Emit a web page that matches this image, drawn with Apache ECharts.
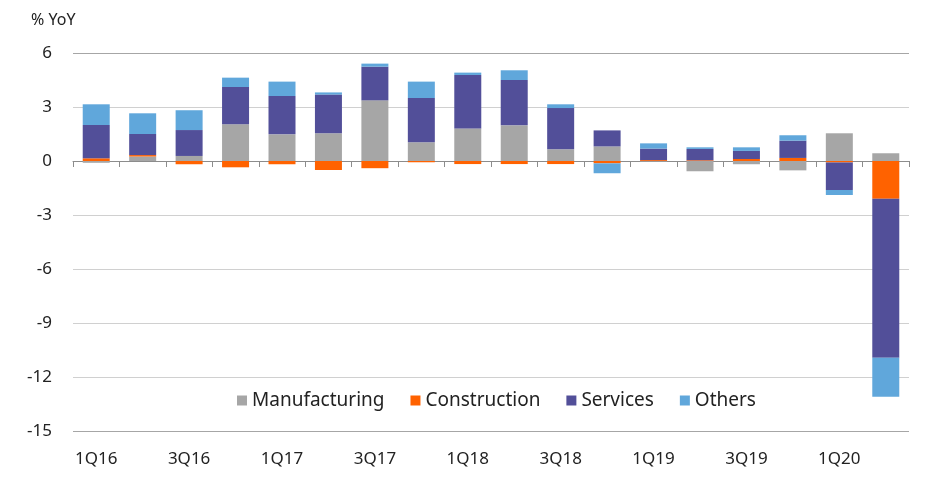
<!DOCTYPE html>
<html>
<head>
<meta charset="utf-8">
<script src="https://cdn.jsdelivr.net/npm/echarts@6/dist/echarts.min.js"></script>
<style>
html,body{margin:0;padding:0;background:#fff;}
#chart{width:952px;height:492px;}
</style>
</head>
<body>
<div id="chart"></div>
<script>
var categories = ['1Q16','2Q16','3Q16','4Q16','1Q17','2Q17','3Q17','4Q17','1Q18','2Q18','3Q18','4Q18','1Q19','2Q19','3Q19','4Q19','1Q20','2Q20'];
var manufacturing = [-0.1, 0.25, 0.28, 2.04, 1.48, 1.54, 3.37, 1.04, 1.81, 1.98, 0.65, 0.81, -0.03, -0.57, -0.18, -0.52, 1.54, 0.43];
var construction  = [0.15, 0.08, -0.18, -0.35, -0.18, -0.5, -0.4, -0.07, -0.17, -0.17, -0.17, -0.13, 0.05, 0.04, 0.11, 0.17, -0.08, -2.1];
var services      = [1.85, 1.17, 1.44, 2.07, 2.13, 2.15, 1.87, 2.46, 2.97, 2.52, 2.29, 0.89, 0.64, 0.63, 0.45, 0.96, -1.53, -8.83];
var others        = [1.15, 1.15, 1.1, 0.52, 0.8, 0.12, 0.17, 0.91, 0.13, 0.54, 0.21, -0.55, 0.29, 0.09, 0.2, 0.3, -0.28, -2.17];
var seriesNames = ['Manufacturing','Construction','Services','Others'];
var colors = ['#a6a6a6','#ff6200','#524f99','#60a7db'];
var yTicks = {min:-15, max:6, interval:3};

var font = '"Noto Sans", sans-serif';
var chart = echarts.init(document.getElementById('chart'));
var dataSets = [manufacturing, construction, services, others];
var series = seriesNames.map(function(n,i){
  return {
    name:n, type:'bar', stack:'total', stackStrategy:'samesign',
    xAxisIndex:0, yAxisIndex:0,
    barWidth:27,
    itemStyle:{color:colors[i]},
    data:dataSets[i]
  };
});
chart.setOption({
  animation:false,
  color:colors,
  textStyle:{fontFamily:font},
  grid:{left:73,right:43,top:53,bottom:61},
  title:{text:'% YoY',left:26,top:7,textStyle:{fontFamily:font,fontSize:16,fontWeight:'normal',color:'#222'}},
  legend:{
    data:seriesNames, left:232, top:386, itemWidth:10, itemHeight:10, itemGap:26,
    icon:'rect',
    textStyle:{fontFamily:font,fontSize:19,color:'#222'}
  },
  xAxis:[{
    type:'category', data:categories, position:'bottom',
    axisLine:{onZero:true,lineStyle:{color:'#8c8c8c',width:1}},
    axisTick:{show:true,length:6,lineStyle:{color:'#8c8c8c'}},
    axisLabel:{show:false}
  },{
    type:'category', data:categories, position:'bottom',
    axisLine:{show:false,onZero:false},
    axisTick:{show:false},
    axisLabel:{show:true,interval:1,margin:20,fontSize:17,color:'#222',fontFamily:font}
  }],
  yAxis:{
    type:'value', min:yTicks.min, max:yTicks.max, interval:yTicks.interval,
    axisLine:{show:false}, axisTick:{show:false},
    axisLabel:{margin:21,fontSize:17,color:'#222',fontFamily:font},
    splitLine:{lineStyle:{color:['#a6a6a6','#d0d0d0','#d0d0d0','#d0d0d0','#d0d0d0','#d0d0d0','#d0d0d0','#a6a6a6'],width:1}}
  },
  series:series
});
</script>
</body>
</html>
